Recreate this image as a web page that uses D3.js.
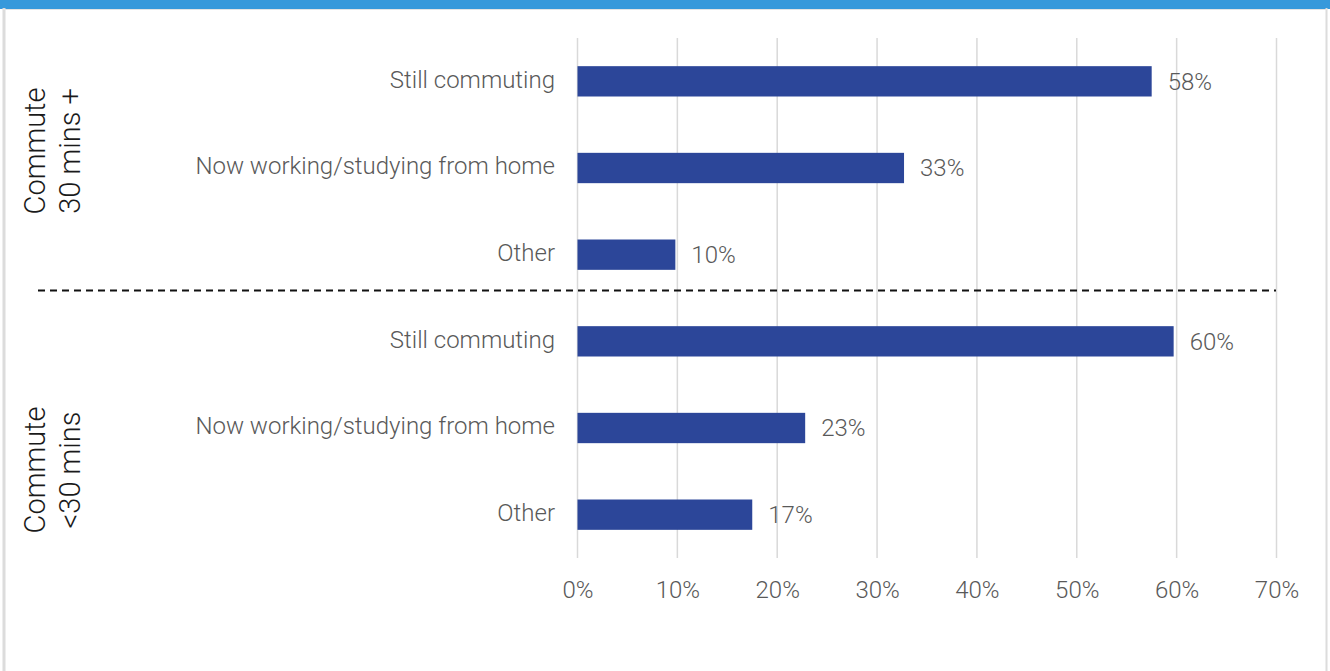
<!DOCTYPE html>
<html><head><meta charset="utf-8">
<script src="https://cdn.jsdelivr.net/npm/d3@7/dist/d3.min.js"></script>
<style>
html,body{margin:0;padding:0;background:#fff;overflow:hidden;}
svg{display:block;}
text{font-family:Roboto,"Noto Sans",sans-serif;}
</style></head>
<body>
<svg id="chart" width="1330" height="671"></svg>
<script>
const categories = ["Still commuting","Now working/studying from home","Other","Still commuting","Now working/studying from home","Other"];
const values = [0.575, 0.327, 0.098, 0.597, 0.228, 0.175];
const valueLabels = ["58%","33%","10%","60%","23%","17%"];
const groups = [["Commute","30 mins +"],["Commute","<30 mins"]];
const ticks = [0,0.1,0.2,0.3,0.4,0.5,0.6,0.7];
const tickLabels = ["0%","10%","20%","30%","40%","50%","60%","70%"];

const svg = d3.select("#chart");
// frame
svg.append("rect").attr("x",0).attr("y",0).attr("width",1330).attr("height",9).attr("fill","#3799DB");
svg.append("line").attr("x1",4).attr("x2",4).attr("y1",8).attr("y2",671).attr("stroke","#DCDCDC").attr("stroke-width",3);
svg.append("line").attr("x1",1326.5).attr("x2",1326.5).attr("y1",8).attr("y2",671).attr("stroke","#DCDCDC").attr("stroke-width",2);
svg.append("line").attr("x1",3).attr("x2",1327).attr("y1",9.5).attr("y2",9.5).attr("stroke","#E4E4E4").attr("stroke-width",1);

const x = d3.scaleLinear().domain([0,0.7]).range([577.5,1276.5]);
const y = d3.scaleBand().domain(d3.range(categories.length)).range([38,558]).paddingInner(0.65).paddingOuter(0.325);

// gridlines
svg.append("g").selectAll("line").data(ticks).join("line")
  .attr("x1",d=>x(d)).attr("x2",d=>x(d)).attr("y1",38).attr("y2",558)
  .attr("stroke","#D9D9D9").attr("stroke-width",1.5);

// x axis labels
const xAxis = d3.axisBottom(x).tickValues(ticks).tickFormat((d,i)=>tickLabels[i]).tickSize(0).tickPadding(0);
const gx = svg.append("g").attr("transform","translate(0,581)").call(xAxis);
gx.select(".domain").remove();
gx.selectAll("text").attr("font-size",24).attr("font-weight",300).attr("fill","#595959").attr("dy","0.7em")
  .style("font-family","Roboto, sans-serif");

// bars
svg.append("g").selectAll("rect").data(values).join("rect")
  .attr("x",x(0)).attr("y",(d,i)=>y(i)).attr("width",d=>x(d)-x(0)).attr("height",y.bandwidth())
  .attr("fill","#2C4699");

// value labels
svg.append("g").selectAll("text").data(values).join("text")
  .attr("x",d=>x(d)+16).attr("y",(d,i)=>y(i)+y.bandwidth()/2).attr("dy","0.35em")
  .attr("font-size",24).attr("font-weight",300).attr("fill","#595959")
  .text((d,i)=>valueLabels[i]);

// category labels
svg.append("g").selectAll("text").data(categories).join("text")
  .attr("x",555).attr("y",(d,i)=>y(i)+y.bandwidth()/2).attr("dy","0.26em")
  .attr("text-anchor","end").attr("font-size",24).attr("font-weight",300).attr("fill","#595959")
  .text(d=>d);

// dashed separator
svg.append("line").attr("x1",38).attr("x2",1276).attr("y1",290.5).attr("y2",290.5)
  .attr("stroke","#111").attr("stroke-width",2).attr("stroke-dasharray","7,5");

// group labels
const groupCenters = [151, 470];
groups.forEach((g,gi)=>{
  const t = svg.append("text")
    .attr("transform",`translate(45,${groupCenters[gi]}) rotate(-90)`)
    .attr("text-anchor","middle").attr("font-size",29).attr("font-weight",300).attr("fill","#1a1a1a");
  g.forEach((line,li)=>{
    t.append("tspan").attr("x",0).attr("y",li*35).text(line);
  });
});
</script>
</body></html>
